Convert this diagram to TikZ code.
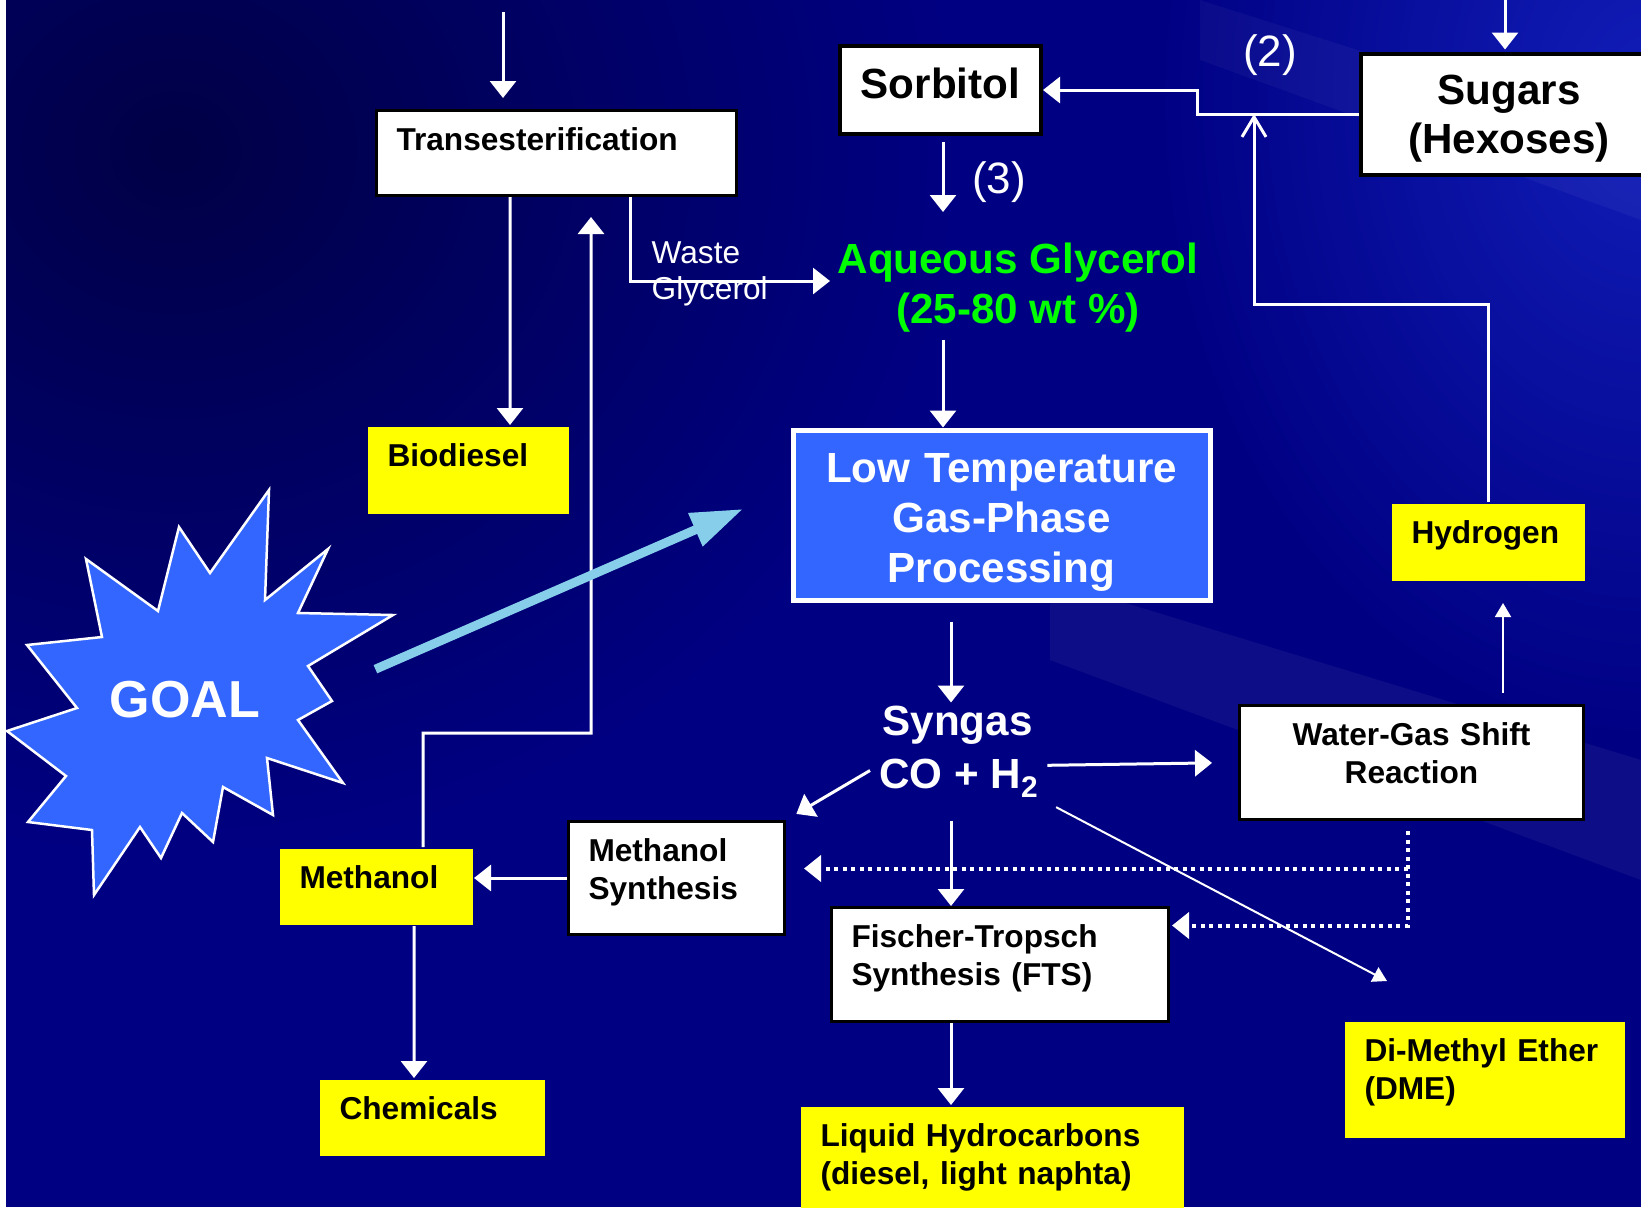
\documentclass[tikz,border=0pt]{standalone}
\usepackage{fontspec}
\setmainfont{Liberation Sans}
\usetikzlibrary{fadings}
\usepgflibrary{arrows.meta}

\definecolor{bgdark}{RGB}{0,0,70}
\definecolor{bgnavy}{RGB}{0,0,130}
\definecolor{bgbright}{RGB}{18,30,185}
\definecolor{boxblue}{RGB}{51,102,255}
\definecolor{boxyellow}{RGB}{255,255,0}
\definecolor{aqgreen}{RGB}{0,255,0}
\definecolor{goalcyan}{RGB}{135,206,235}
\tikzfading[name=softspot, inner color=transparent!0, outer color=transparent!100]

\begin{document}
\begin{tikzpicture}
    [x=1mm, y=-1mm,
    arr/.style={white, line width=0.3mm, -{Triangle[length=1.7mm, width=2.6mm]}},
    thinarr/.style={white, line width=0.2mm, -{Triangle[length=1.4mm, width=1.6mm]}},
    barb/.style={white, line width=0.3mm, -{Straight Barb[length=2mm, width=2.4mm]}},
    dotarr/.style={arr, line width=0.4mm, dash pattern=on 0.4mm off 0.45mm},
    goalarr/.style={goalcyan, line width=0.9mm, -{Triangle[length=5.2mm, width=3.4mm]}},
    smallfont/.style={font=\fontsize{9}{10.8}\selectfont\bfseries},
    bigfont/.style={font=\fontsize{12}{14.2}\selectfont\bfseries},
    txt/.style={inner sep=0pt, text=white},
    procbox/.style={smallfont, draw=black, line width=0.3mm, fill=white, anchor=north west,
        align=left, inner xsep=2mm, inner ysep=0pt, text height=4mm},
    prodbox/.style={procbox, draw=none, fill=boxyellow},
    bigbox/.style={procbox, bigfont, line width=0.4mm, align=center}]

    %% background
    \useasboundingbox (0,0) rectangle (164.1,120.7);
    \fill[bgnavy] (0.6,0) rectangle (164.1,120.7);
    \fill[bgdark, path fading=softspot] (-60,-55) rectangle (95,85);
    \fill[bgbright, path fading=softspot] (115,-55) rectangle (215,75);
    \fill[white, opacity=0.05] (105,58) -- (164.1,76) -- (164.1,88) -- (105,66) -- cycle;
    \fill[white, opacity=0.04] (120,0) -- (164.1,14) -- (164.1,22) -- (120,6) -- cycle;
    \fill[white] (0,0) rectangle (0.6,120.7);

    %% goal star
    \draw[white, line width=0.25mm, fill=boxblue] (26.9,49.0) -- (26.5,60.0) -- (32.8,54.9) -- (29.8,61.3)
        -- (39.3,61.5) -- (30.8,66.6) -- (33.2,70.1) -- (29.8,72.0) -- (34.3,78.3) -- (26.7,75.8)
        -- (27.3,81.5) -- (22.3,78.7) -- (21.3,84.2) -- (18.2,81.3) -- (16.1,85.8) -- (14.0,82.7)
        -- (9.4,89.5) -- (9.2,83.0) -- (2.8,82.2) -- (6.6,77.6) -- (0.7,73.1) -- (7.7,70.8)
        -- (2.7,64.5) -- (10.2,63.7) -- (8.6,55.9) -- (15.8,61.1) -- (17.9,52.7) -- (21.0,57.3) -- cycle;
    \node[txt, font=\fontsize{14.8}{17}\selectfont\bfseries] (goal) at (18.5,70.0) {GOAL};

    %% process boxes
    \node[procbox, text width=32mm, text depth=4.5mm] (trans) at (37.5,10.9) {Transesterification};
    \node[procbox, text width=17.6mm, text depth=7.3mm] (msyn) at (56.7,82.0) {Methanol\\Synthesis};
    \node[procbox, align=center, text width=30.4mm, text depth=7.4mm] (wgs) at (123.8,70.4) {Water-Gas Shift\\Reaction};
    \node[procbox, text width=29.7mm, text depth=7.4mm] (fts) at (83.0,90.6) {Fischer-Tropsch\\Synthesis (FTS)};
    \node[bigbox, text width=16.1mm, text height=5.2mm, text depth=3.6mm] (sorb) at (83.8,4.4) {Sorbitol};
    \node[bigbox, text width=25.6mm, text height=5.05mm, text depth=7.05mm] (sugars) at (135.9,5.15) {Sugars\\(Hexoses)};
    \node[bigbox, text=white, draw=white, line width=0.5mm, fill=boxblue, inner xsep=1mm, text width=39.7mm,
        text height=5.25mm, text depth=11.75mm] (lowT) at (79.05,42.75) {Low Temperature\\Gas-Phase\\Processing};

    %% products
    \node[prodbox, text width=16.1mm, text depth=4.7mm] (bio) at (36.6,42.5) {Biodiesel};
    \node[prodbox, text width=15.3mm, text depth=3.7mm] (hyd) at (139.0,50.2) {Hydrogen};
    \node[prodbox, text width=15.3mm, text depth=3.6mm] (meth) at (27.8,84.7) {Methanol};
    \node[prodbox, text width=18.5mm, text depth=3.6mm] (chem) at (31.8,107.8) {Chemicals};
    \node[prodbox, text width=34.3mm, text depth=8mm] (liq) at (79.9,110.5) {Liquid Hydrocarbons\\(diesel, light naphta)};
    \node[prodbox, text width=24mm, text depth=7.6mm] (dme) at (134.3,102.0) {Di-Methyl Ether\\(DME)};

    %% streams
    \node[txt, bigfont, text=aqgreen, align=center, anchor=north] (aq) at (101.8,24.2) {Aqueous Glycerol\\(25-80 wt \%)};
    \node[txt, bigfont, anchor=north] (syn) at (95.75,70.55) {Syngas};
    \node[txt, bigfont, anchor=north] (co) at (95.85,75.8) {CO + H\raisebox{-0.9mm}{\fontsize{8.5}{10}\selectfont 2}};
    \node[txt, font=\fontsize{9}{10.2}\selectfont, align=left, anchor=north west] (waste) at (65.1,24.1) {Waste\\Glycerol};
    \node[txt, font=\fontsize{12.5}{15}\selectfont] (two) at (127.0,5.5) {(2)};
    \node[txt, font=\fontsize{12.5}{15}\selectfont] (three) at (99.9,18.2) {(3)};

    %% columns
    \coordinate (colA) at (94.3,0);
    \coordinate (colB) at (95.1,0);
    \coordinate (colC) at (150.3,0);
    \coordinate (oilin) at (50.3,1.2);
    \coordinate (sugin) at (150.5,0);
    \coordinate (aqin) at (83.0,28.1);
    \coordinate (h2in) at (125.4,11.4);
    \coordinate (gt) at (74.3,50.9);
    \coordinate (wd) at ([xshift=-0.4mm]wgs.south);

    %% connectors
    \draw[arr, shorten >=1.1mm] (oilin) -- (oilin |- trans.north);
    \draw[arr, shorten >=0.2mm] (sugin) -- (sugin |- sugars.north);
    \draw[arr] ([xshift=13.5mm]trans.south west) -- ([xshift=14.4mm]bio.north west);
    \draw[arr] ([xshift=25.5mm]trans.south west) |- (aqin);
    \draw[arr] (sugars.west) -- ++(-16.2,0) |- (sorb.east);
    \draw[barb] (hyd.north) -- ++(0,-19.8) -| (h2in);
    \draw[arr, shorten <=0.6mm, shorten >=3mm] (sorb.south -| colA) -- (aq.north -| colA);
    \draw[arr, shorten <=0.7mm] (aq.south -| colA) -- (lowT.north -| colA);
    \draw[arr, shorten <=1.9mm, shorten >=0.3mm] (lowT.south -| colB) -- (syn.north -| colB);
    \draw[arr, shorten <=0.9mm, shorten >=2.6mm] ([yshift=1.25mm]co.east) -- (wgs.west);
    \draw[arr, shorten <=1mm, shorten >=1.2mm] ([yshift=1.25mm]co.west) -- (msyn.north east);
    \draw[arr, shorten <=2.3mm] (co.south -| colB) -- (fts.north -| colB);
    \draw[thinarr, shorten <=2mm] (co.south east) -- ([xshift=4.4mm, yshift=3.9mm]dme.north west);
    \draw[thinarr, shorten <=1.1mm, shorten >=2.1mm] (wgs.north -| colC) -- (hyd.south -| colC);
    \draw[dotarr, shorten <=1mm, shorten >=0.2mm] (wd) |- ([yshift=3.9mm]fts.east);
    \draw[dotarr, shorten >=1.8mm] ([yshift=0.95mm]msyn.east -| wd) -- ([yshift=0.95mm]msyn.east);
    \draw[arr] (msyn.west) -- (msyn.west -| meth.east);
    \draw[arr] ([xshift=13.6mm]meth.south west) -- ([xshift=9.6mm]chem.north west);
    \draw[arr, shorten >=2mm] ([xshift=14.5mm]meth.north west) |- ++(16.8,-11.4) -- ([xshift=21.6mm]trans.south west);
    \draw[arr] (fts.south -| colB) -- (liq.north -| colB);
    \draw[goalarr, shorten <=12.5mm] (goal.south east) -- (gt);
\end{tikzpicture}
\end{document}
